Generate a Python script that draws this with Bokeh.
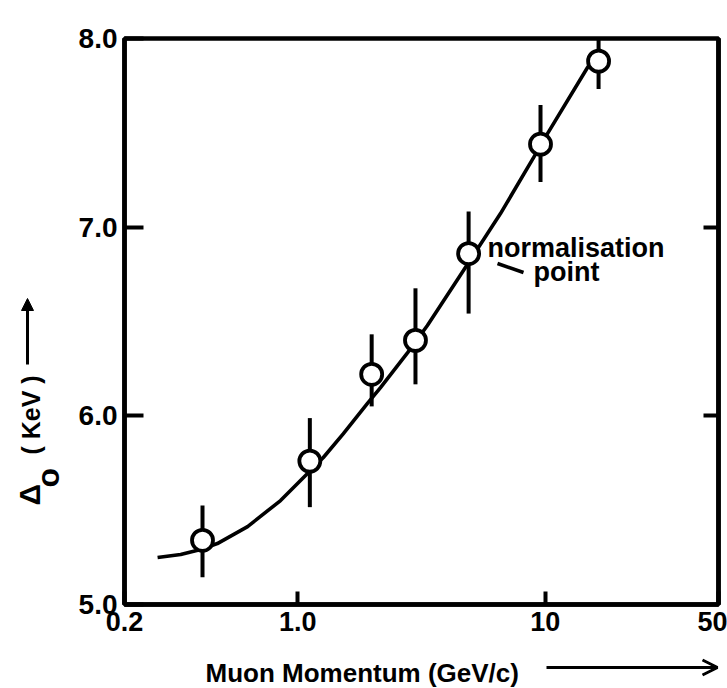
import numpy as np
from bokeh.plotting import figure
from bokeh.layouts import row, column
from bokeh.models import (LinearAxis, FixedTicker, Label, Arrow, OpenHead,
                          NormalHead, Range1d, ColumnDataSource)
from bokeh.core.properties import value
from bokeh.embed import file_html
from bokeh.resources import INLINE

# ---------------- data ----------------
momentum = [0.413, 1.12, 1.99, 2.99, 4.90, 9.56, 16.4]          # GeV/c
delta0 = [5.34, 5.76, 6.22, 6.40, 6.86, 7.44, 7.88]             # KeV
err_low = [0.196, 0.244, 0.170, 0.233, 0.318, 0.201, 0.148]
err_high = [0.185, 0.228, 0.212, 0.276, 0.223, 0.207, 0.159]

curve_p = [0.272, 0.337, 0.406, 0.474, 0.628, 0.853, 1.076, 1.27, 1.53,
           1.91, 2.16, 2.78, 3.34, 4.67, 6.59, 8.96, 10.2, 14.8, 16.7]
curve_d = [5.249, 5.265, 5.291, 5.323, 5.413, 5.551, 5.684, 5.779, 5.906,
           6.065, 6.150, 6.335, 6.479, 6.770, 7.072, 7.369, 7.496, 7.846, 7.946]

x_ticks = [0.2, 1.0, 10.0, 50.0]
x_tick_labels = ["0.2", "1.0", "10", "50"]
y_ticks = [5.0, 6.0, 7.0, 8.0]
y_tick_labels = ["5.0", "6.0", "7.0", "8.0"]

# ---------------- page geometry ----------------
PAGE_W, PAGE_H = 727, 688
LEFT_W = 68            # strip holding the rotated y title
BOTTOM_H = 44          # strip holding the x title
FX0, FX1 = 124, 718    # frame left/right on page
FY0, FY1 = 38, 604     # frame top/bottom on page
XLO, XHI = 0.2, 50.0
YLO, YHI = 5.0, 8.0
TXT_SHIFT = 8          # text sits this much lower than its nominal baseline

FONT = "Liberation Sans"


def px_x(px):
    return 10 ** (np.log10(XLO) + (px - FX0) / (FX1 - FX0) * np.log10(XHI / XLO))


def px_y(py):
    return YLO + (FY1 - py) / (FY1 - FY0) * (YHI - YLO)


main_w = PAGE_W - LEFT_W
main_h = PAGE_H - BOTTOM_H
p = figure(width=main_w, height=main_h, x_axis_type="log",
           x_range=Range1d(XLO, XHI), y_range=Range1d(YLO, YHI),
           output_backend="svg", toolbar_location=None,
           min_border_left=FX0 - LEFT_W, min_border_right=main_w - (FX1 - LEFT_W),
           min_border_top=FY0, min_border_bottom=main_h - FY1)
p.grid.visible = False
p.background_fill_color = "white"
p.border_fill_color = "white"
p.outline_line_color = "black"
p.outline_line_width = 4.5

# x axis
xa = p.xaxis[0]
xa.ticker = FixedTicker(ticks=x_ticks)
xa.major_label_overrides = {t: s for t, s in zip(x_ticks, x_tick_labels)}
xa.minor_tick_line_color = None
xa.major_tick_in = 13
xa.major_tick_out = 0
xa.major_tick_line_width = 4
xa.axis_line_width = 4.5
xa.major_label_standoff = 7
xa.major_label_text_font = FONT
xa.major_label_text_font_style = "bold"
xa.major_label_text_font_size = "27px"
xa.major_label_text_color = "black"

# y axis (left)
ya = p.yaxis[0]
ya.ticker = FixedTicker(ticks=y_ticks)
ya.major_label_overrides = {t: s for t, s in zip(y_ticks, y_tick_labels)}
ya.minor_tick_line_color = None
ya.major_tick_in = 19
ya.major_tick_out = 0
ya.major_tick_line_width = 4
ya.axis_line_width = 4.5
ya.major_label_standoff = 7
ya.major_label_text_font = FONT
ya.major_label_text_font_style = "bold"
ya.major_label_text_font_size = "28px"
ya.major_label_text_color = "black"

# right axis: inner ticks only, no labels drawn
ra = LinearAxis(ticker=FixedTicker(ticks=[6.0, 7.0]))
ra.minor_tick_line_color = None
ra.major_tick_in = 15
ra.major_tick_out = 0
ra.major_tick_line_width = 4
ra.axis_line_width = 4.5
ra.major_label_text_font_size = "1px"
ra.major_label_text_color = None
ra.major_label_standoff = 0
p.add_layout(ra, "right")

# ---------------- curve, error bars, points ----------------
p.line(curve_p, curve_d, line_color="black", line_width=3.6)

src = ColumnDataSource(dict(
    x=momentum, y=delta0,
    lo=[d - e for d, e in zip(delta0, err_low)],
    hi=[d + e for d, e in zip(delta0, err_high)],
))
p.segment(x0="x", y0="lo", x1="x", y1="hi", source=src,
          line_color="black", line_width=4)
p.scatter(x="x", y="y", source=src, size=21, marker="circle",
          fill_color="white", line_color="black", line_width=3.8)

# normalisation-point note
p.add_layout(Label(x=px_x(487), y=px_y(255 - TXT_SHIFT), text="normalisation",
                   text_font=FONT, text_font_size="27px", text_font_style="bold",
                   text_color="black",
                   text_baseline="alphabetic", text_align="left"))
p.add_layout(Label(x=px_x(533), y=px_y(279 - TXT_SHIFT), text="point",
                   text_font=FONT, text_font_size="27px", text_font_style="bold",
                   text_color="black",
                   text_baseline="alphabetic", text_align="left"))
p.segment(x0=[px_x(497)], y0=[px_y(263)], x1=[px_x(523)], y1=[px_y(272)],
          line_color="black", line_width=3.5)


def strip(width, height, x0, x1, y0, y1):
    f = figure(width=width, height=height, x_range=Range1d(x0, x1),
               y_range=Range1d(y1, y0), output_backend="svg",
               toolbar_location=None, x_axis_location=None, y_axis_location=None,
               min_border=0, min_border_left=0, min_border_right=0,
               min_border_top=0, min_border_bottom=0)
    f.grid.visible = False
    f.outline_line_color = None
    f.background_fill_color = "white"
    f.border_fill_color = "white"
    return f


# left strip: rotated y title and arrow (page pixel coordinates)
left = strip(LEFT_W, PAGE_H, 0, LEFT_W, 0, PAGE_H)
left.text(x=[37 - TXT_SHIFT], y=[505], text=["Δ"], angle=np.pi / 2,
          text_font=value(FONT), text_font_size="30px", text_font_style="bold",
          text_color="black", text_baseline="alphabetic", text_align="left")
left.text(x=[55 - TXT_SHIFT], y=[487], text=["o"], angle=np.pi / 2,
          text_font=value(FONT), text_font_size="32px", text_font_style="bold",
          text_color="black", text_baseline="alphabetic", text_align="left")
left.text(x=[38 - TXT_SHIFT], y=[454], text=["( KeV )"], angle=np.pi / 2,
          text_font=value(FONT), text_font_size="25px", text_font_style="bold",
          text_color="black", text_baseline="alphabetic", text_align="left")
left.add_layout(Arrow(x_start=27, y_start=364, x_end=27, y_end=298,
                      line_width=3, line_color="black",
                      end=NormalHead(size=12, fill_color="black", line_color="black")))

# bottom strip: x title and arrow; its frame is aligned with the main frame
bottom = strip(main_w, BOTTOM_H, FX0, FX1, main_h, PAGE_H)
bottom.text(x=[205], y=[680 - TXT_SHIFT], text=["Muon Momentum (GeV/c)"],
            text_font=value(FONT), text_font_size="26px", text_font_style="bold",
            text_color="black", text_baseline="alphabetic", text_align="left")
bottom.add_layout(Arrow(x_start=546, y_start=667, x_end=717, y_end=667,
                        line_width=3, line_color="black",
                        end=OpenHead(size=15, line_width=3, line_color="black")))

layout = row(left, column(p, bottom))
open("out.html", "w").write(file_html(layout, INLINE))
